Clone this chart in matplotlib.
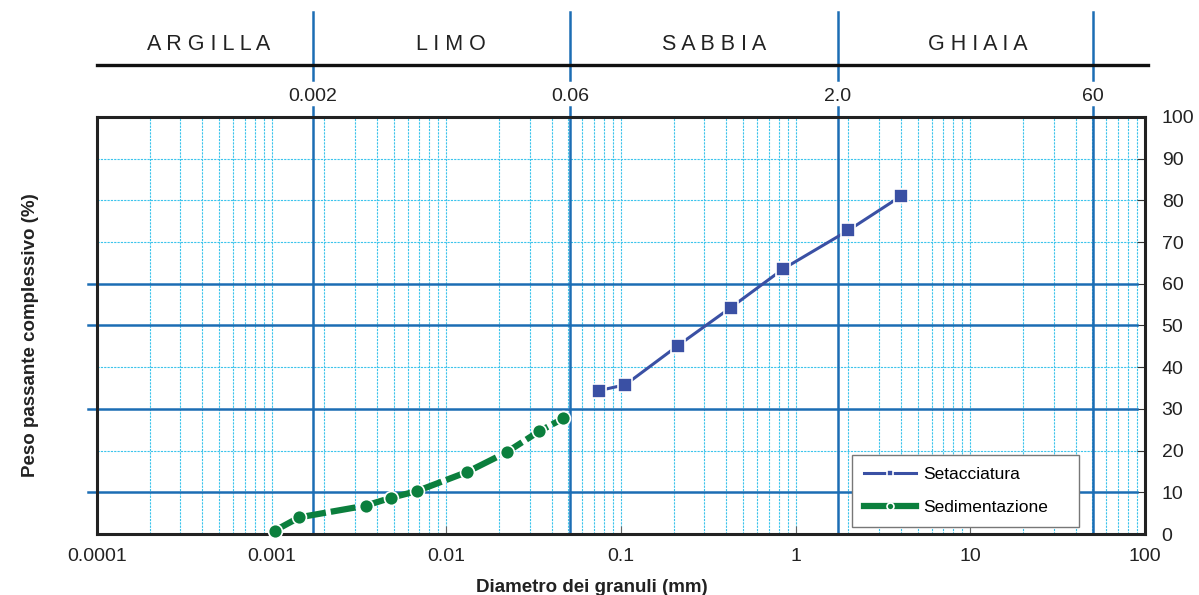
import matplotlib
matplotlib.use("Agg")
import matplotlib.pyplot as plt
import matplotlib.transforms as mtransforms
from matplotlib.ticker import FixedLocator, NullFormatter

plt.rcParams['font.family'] = ['Liberation Sans', 'DejaVu Sans']

# data
sed_d = [0.00104, 0.00144, 0.00345, 0.00484, 0.0068, 0.0132, 0.0221, 0.0339, 0.0467]
sed_p = [0.8, 4.0, 6.8, 8.7, 10.3, 14.9, 19.6, 24.6, 27.7]
set_d = [0.075, 0.106, 0.212, 0.425, 0.85, 2.0, 4.0]
set_p = [34.4, 35.8, 45.2, 54.3, 63.6, 72.8, 81.0]

bound_d = [0.00172, 0.0509, 1.74, 50.2]
bound_lbl = ['0.002', '0.06', '2.0', '60']
zone_d = [0.000435, 0.0106, 0.34, 11.0]
zone_lbl = ['ARGILLA', 'LIMO', 'SABBIA', 'GHIAIA']

xticks = [0.0001, 0.001, 0.01, 0.1, 1, 10, 100]
xtick_lbl = ['0.0001', '0.001', '0.01', '0.1', '1', '10', '100']
blue_rows = [10, 30, 50, 60]
cyan_rows = [20, 40, 70, 80, 90]

BLUE = '#1c6db4'
CYAN = '#3cc4ec'

fig = plt.figure(figsize=(11.99, 5.95), dpi=100)
ax = fig.add_axes([0.0809, 0.1025, 0.8741, 0.7009])
ax.set_xscale('log')
ax.set_xlim(0.0001, 100)
ax.set_ylim(0, 100)

# fine grid
minors = [m * 10.0 ** e for e in range(-4, 2) for m in range(1, 10)]
for v in minors:
    ax.axvline(v, color=CYAN, lw=0.8, ls=(0, (2, 1)), zorder=1)
for r in cyan_rows:
    ax.axhline(r, color=CYAN, lw=0.8, ls=(0, (2, 1)), zorder=1)
for r in blue_rows:
    ax.axhline(r, xmin=-0.009, xmax=0.992, color=BLUE, lw=1.8, clip_on=False, zorder=2)

# boundaries
trf = mtransforms.blended_transform_factory(ax.transData, fig.transFigure)
tra = mtransforms.blended_transform_factory(ax.transAxes, fig.transFigure)
for d, lbl in zip(bound_d, bound_lbl):
    ax.plot([d, d], [0.105, 0.82], transform=trf, color=BLUE, lw=1.8, clip_on=False, zorder=2)
    ax.plot([d, d], [0.866, 0.98], transform=trf, color=BLUE, lw=1.8, clip_on=False, zorder=2)
    fig.text(d, 0.837, lbl, transform=trf, ha='center', va='center', fontsize=14, color='#222222')
for d, lbl in zip(zone_d, zone_lbl):
    fig.text(d, 0.926, ' '.join(lbl), transform=trf, ha='center', va='center', fontsize=15.5, color='#222222')
ax.plot([0.0, 1.003], [0.891, 0.891], transform=tra, color='#111111', lw=2.4, clip_on=False)

# curves
ax.plot(set_d, set_p, color='#3a50a4', lw=2.2, marker='s', markersize=10,
        markeredgecolor='white', markeredgewidth=1.2, label='Setacciatura', zorder=5)
ax.plot(sed_d, sed_p, color='#0b7f3d', lw=4.5, dashes=(4, 0.8), marker='o', markersize=10,
        markeredgecolor='white', markeredgewidth=1.2, label='Sedimentazione', zorder=5, clip_on=False)

leg = ax.legend(loc='lower left', bbox_to_anchor=(0.7204, 0.017, 0.217, 0.175), mode='expand',
                borderaxespad=0, fontsize=12.5, handlelength=3.0, numpoints=1, fancybox=False,
                framealpha=1, borderpad=0.7, labelspacing=1.0, handletextpad=0.4, markerscale=0.5)
leg.get_frame().set_edgecolor('#777777')
leg.get_frame().set_linewidth(1.0)
leg._legend_box.align = 'center'
for h in leg.get_lines():
    h.set_linestyle('-')

# axes style
for s in ax.spines.values():
    s.set_color('#222222')
    s.set_linewidth(2.2)
ax.xaxis.set_major_locator(FixedLocator(xticks))
ax.set_xticklabels(xtick_lbl)
ax.xaxis.set_minor_formatter(NullFormatter())
ax.tick_params(axis='x', which='major', direction='in', length=6, color='#666666',
               labelsize=14, pad=10, labelcolor='#222222')
ax.tick_params(axis='x', which='minor', length=0)
ax.yaxis.tick_right()
ax.set_yticks(range(0, 101, 10))
ax.tick_params(axis='y', direction='in', length=6, color='#333333', labelsize=14, pad=12,
               labelcolor='#222222')

fig.text(31 / 1199, 1 - 335 / 595, 'Peso passante complessivo (%)', rotation=90,
         ha='center', va='center', fontsize=13.5, fontweight='bold', color='#222222')
fig.text(592 / 1199, 7 / 595, 'Diametro dei granuli (mm)', ha='center', va='center',
         fontsize=13.5, fontweight='bold', color='#222222')

fig.savefig('out.png', dpi=100)
